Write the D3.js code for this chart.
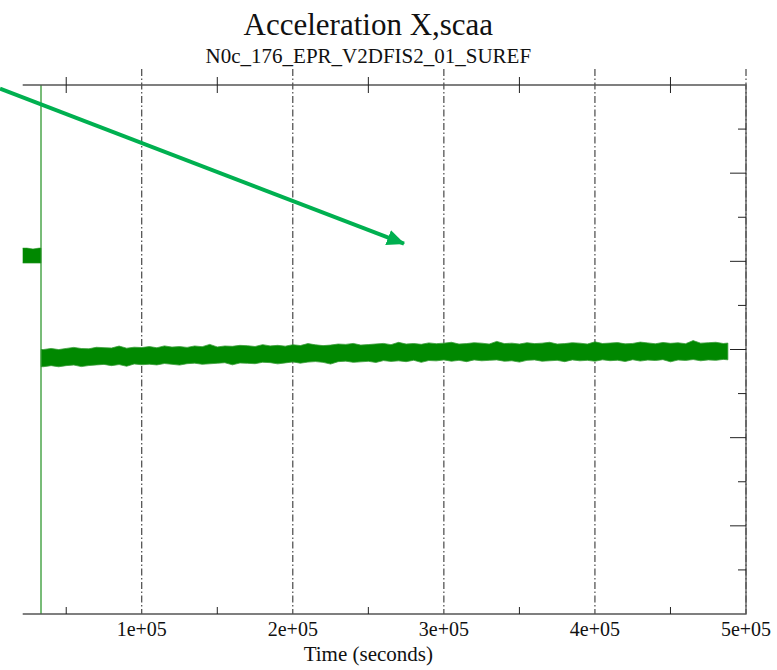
<!DOCTYPE html>
<html><head><meta charset="utf-8">
<script src="https://cdn.jsdelivr.net/npm/d3@7/dist/d3.min.js"></script>
<style>body{margin:0;background:#fff}svg{display:block}</style>
</head><body>
<svg id="chart" width="777" height="670"></svg>
<script>
// ---- data ----
const title = "Acceleration X,scaa";
const subtitle = "N0c_176_EPR_V2DFIS2_01_SUREF";
const xLabel = "Time (seconds)";
const xMajorTicks = [100000, 200000, 300000, 400000, 500000];
const xTickLabels = ["1e+05", "2e+05", "3e+05", "4e+05", "5e+05"];
const xMinorTicks = [50000, 150000, 250000, 350000, 450000];
const yMajorTicks = [-20, -10, 0, 10, 20];
const yMinorTicks = [-25, -15, -5, 5, 15, 25];

// early segment (before the jump)
const earlyTime  = [20000, 24000, 28000, 32000, 33300];
const earlyUpper = [11.5, 11.5, 11.4, 11.5, 11.5];
const earlyLower = [9.8, 9.8, 9.8, 9.8, 9.8];

// full-range spike at the jump
const spikeTime = [33300, 33300];
const spikeValue = [40, -40];

// main noisy band: envelope (upper / lower) of the signal
const bandTime = [33400,35000,40000,45000,50000,55000,60000,65000,70000,75000,80000,85000,90000,95000,100000,105000,110000,115000,120000,125000,130000,135000,140000,145000,150000,155000,160000,165000,170000,175000,180000,185000,190000,195000,200000,205000,210000,215000,220000,225000,230000,235000,240000,245000,250000,255000,260000,265000,270000,275000,280000,285000,290000,295000,300000,305000,310000,315000,320000,325000,330000,335000,340000,345000,350000,355000,360000,365000,370000,375000,380000,385000,390000,395000,400000,405000,410000,415000,420000,425000,430000,435000,440000,445000,450000,455000,460000,465000,470000,475000,480000,485000,488000];
const bandUpper = [0.00,0.00,0.12,-0.01,0.12,0.24,0.11,0.08,0.25,0.21,0.17,0.39,0.15,0.26,0.22,0.33,0.20,0.41,0.27,0.33,0.24,0.40,0.32,0.58,0.29,0.40,0.36,0.47,0.43,0.34,0.55,0.41,0.47,0.38,0.54,0.45,0.67,0.53,0.44,0.50,0.62,0.58,0.69,0.50,0.56,0.63,0.69,0.55,0.81,0.62,0.68,0.59,0.75,0.66,0.72,0.82,0.62,0.67,0.77,0.72,0.62,0.92,0.67,0.72,0.62,0.77,0.67,0.72,0.82,0.62,0.67,0.77,0.72,0.62,0.87,0.68,0.73,0.78,0.64,0.69,0.84,0.75,0.65,0.80,0.70,0.76,0.66,1.01,0.72,0.77,0.82,0.68,0.73];
const bandLower = [-1.95,-1.95,-1.83,-1.96,-1.83,-1.76,-1.94,-1.82,-1.75,-1.69,-1.83,-1.71,-1.90,-1.64,-1.73,-1.67,-1.75,-1.59,-1.68,-1.77,-1.61,-1.55,-1.68,-1.62,-1.56,-1.50,-1.74,-1.53,-1.57,-1.61,-1.45,-1.49,-1.63,-1.52,-1.41,-1.55,-1.43,-1.37,-1.46,-1.65,-1.38,-1.32,-1.46,-1.40,-1.34,-1.47,-1.26,-1.35,-1.29,-1.38,-1.22,-1.46,-1.25,-1.29,-1.18,-1.33,-1.23,-1.38,-1.18,-1.28,-1.23,-1.18,-1.33,-1.28,-1.43,-1.23,-1.18,-1.33,-1.28,-1.23,-1.38,-1.18,-1.28,-1.23,-1.33,-1.17,-1.27,-1.22,-1.36,-1.16,-1.31,-1.20,-1.25,-1.15,-1.40,-1.19,-1.24,-1.14,-1.28,-1.18,-1.23,-1.12,-1.17];

// annotation arrow (data coordinates)
const arrowFrom = [6150, 29.6];
const arrowTo = [273600, 12.0];

// ---- drawing ----
const svg = d3.select("#chart");
const W = 777, H = 670;
const plotLeft = 22.7, plotRight = 746, plotTop = 85, plotBottom = 614;
const serif = "'Liberation Serif','Times New Roman',serif";

const x = d3.scaleLinear().domain([0, 500000]).range([-9.3, plotRight]);
const y = d3.scaleLinear().domain([-30, 30]).range([plotBottom, plotTop]);

svg.append("rect").attr("width", W).attr("height", H).attr("fill", "#fff");

const defs = svg.append("defs");
defs.append("clipPath").attr("id", "plotclip").append("rect")
  .attr("x", plotLeft).attr("y", plotTop)
  .attr("width", plotRight - plotLeft).attr("height", plotBottom - plotTop);
defs.append("marker").attr("id", "arrowhead")
  .attr("markerUnits", "userSpaceOnUse")
  .attr("viewBox", "0 0 18 16").attr("refX", 17).attr("refY", 8)
  .attr("markerWidth", 18).attr("markerHeight", 16)
  .attr("orient", "auto")
  .append("path").attr("d", "M0,0 L18,8 L0,16 Z").attr("fill", "#00b050");

// gridlines (dash-dot) at major x ticks, extending above the top frame
svg.append("g").selectAll("line").data(xMajorTicks).join("line")
  .attr("x1", d => x(d)).attr("x2", d => x(d))
  .attr("y1", plotTop - 16).attr("y2", plotBottom)
  .attr("stroke", "#222").attr("stroke-width", 1)
  .attr("stroke-dasharray", "7,2.5,1.5,2.5");

// data
const gData = svg.append("g").attr("clip-path", "url(#plotclip)");
const band = bandTime.map((t, i) => ({t, hi: bandUpper[i], lo: bandLower[i]}));
const early = earlyTime.map((t, i) => ({t, hi: earlyUpper[i], lo: earlyLower[i]}));
const area = d3.area().x(d => x(d.t)).y0(d => y(d.lo)).y1(d => y(d.hi));
gData.append("path").datum(early).attr("d", area)
  .attr("fill", "#008800").attr("stroke", "#2a952a").attr("stroke-width", 0.6);
gData.append("path").datum(band).attr("d", area)
  .attr("fill", "#008800").attr("stroke", "#3a9d3a").attr("stroke-width", 0.8);
const spike = spikeTime.map((t, i) => ({t, v: spikeValue[i]}));
gData.append("path").datum(spike)
  .attr("d", d3.line().x(d => x(d.t)).y(d => y(d.v)))
  .attr("stroke", "#1f8f1f").attr("stroke-width", 1.2).attr("fill", "none");

// frame
svg.append("path")
  .attr("d", `M${plotLeft},${plotTop}H${plotRight}V${plotBottom}H${plotLeft}`)
  .attr("stroke", "#555").attr("stroke-width", 1.3).attr("fill", "none");

// x minor ticks: bottom inward, top crossing
svg.append("g").selectAll("line").data(xMinorTicks).join("line")
  .attr("x1", d => x(d)).attr("x2", d => x(d))
  .attr("y1", plotBottom - 7).attr("y2", plotBottom)
  .attr("stroke", "#222").attr("stroke-width", 1);
svg.append("g").selectAll("line").data(xMinorTicks).join("line")
  .attr("x1", d => x(d)).attr("x2", d => x(d))
  .attr("y1", plotTop - 8).attr("y2", plotTop + 8)
  .attr("stroke", "#222").attr("stroke-width", 1);

// right-axis ticks (inward)
svg.append("g").selectAll("line").data(yMajorTicks).join("line")
  .attr("x1", plotRight - 16).attr("x2", plotRight)
  .attr("y1", d => y(d)).attr("y2", d => y(d))
  .attr("stroke", "#222").attr("stroke-width", 1);
svg.append("g").selectAll("line").data(yMinorTicks).join("line")
  .attr("x1", plotRight - 8).attr("x2", plotRight)
  .attr("y1", d => y(d)).attr("y2", d => y(d))
  .attr("stroke", "#222").attr("stroke-width", 1);

// x tick labels
svg.append("g").selectAll("text").data(xMajorTicks).join("text")
  .attr("x", d => x(d)).attr("y", 636)
  .attr("text-anchor", "middle")
  .attr("font-family", serif).attr("font-size", 20).attr("fill", "#111")
  .text((d, i) => xTickLabels[i]);

const cx = (x(0) + plotRight) / 2;
svg.append("text").attr("x", cx).attr("y", 661).attr("text-anchor", "middle")
  .attr("font-family", serif).attr("font-size", 21).attr("fill", "#111").text(xLabel);

svg.append("text").attr("x", cx).attr("y", 35).attr("text-anchor", "middle")
  .attr("font-family", serif).attr("font-size", 31).attr("fill", "#111").text(title);
svg.append("text").attr("x", cx).attr("y", 63).attr("text-anchor", "middle")
  .attr("font-family", serif).attr("font-size", 21).attr("fill", "#111").text(subtitle);

// annotation arrow
svg.append("line")
  .attr("x1", x(arrowFrom[0])).attr("y1", y(arrowFrom[1]))
  .attr("x2", x(arrowTo[0])).attr("y2", y(arrowTo[1]))
  .attr("stroke", "#00b050").attr("stroke-width", 4)
  .attr("marker-end", "url(#arrowhead)");
</script>
</body></html>
